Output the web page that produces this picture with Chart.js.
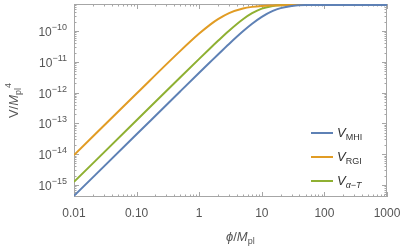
<!DOCTYPE html>
<html>
<head>
<meta charset="utf-8">
<script src="https://cdn.jsdelivr.net/npm/chart.js@4.4.0/dist/chart.umd.min.js"></script>
<style>
  html, body { margin: 0; padding: 0; background: #fff; }
  #wrap { width: 407px; height: 249px; }
</style>
</head>
<body>
<div id="wrap"><canvas id="myChart" width="407" height="249"></canvas></div>
<script>
// valores (phi / M_pl, V / M_pl^4)
const phi      = [0.01, 0.1, 0.5, 1, 1.5, 2, 3, 5, 7, 10, 15, 20, 30, 50, 100, 1000];
const vMHI     = [4.42e-16, 4.42e-14, 1.105e-12, 4.40e-12, 9.82e-12, 1.731e-11, 3.80e-11, 9.76e-11, 1.719e-10, 2.884e-10, 4.49e-10, 5.54e-10, 6.52e-10, 6.95e-10, 7.0e-10, 7.0e-10];
const vRGI     = [9.33e-15, 9.32e-13, 2.26e-11, 8.24e-11, 1.615e-10, 2.43e-10, 3.82e-10, 5.38e-10, 6.07e-10, 6.51e-10, 6.75e-10, 6.87e-10, 6.94e-10, 6.98e-10, 6.995e-10, 7.0e-10];
const vAlphaT  = [1.258e-15, 1.258e-13, 3.135e-12, 1.242e-11, 2.756e-11, 4.80e-11, 1.020e-10, 2.397e-10, 3.776e-10, 5.32e-10, 6.52e-10, 6.87e-10, 6.99e-10, 7.0e-10, 7.0e-10, 7.0e-10];

const xTickValues = [0.01, 0.1, 1, 10, 100, 1000];
const xTickLabels = ['0.01', '0.10', '1', '10', '100', '1000'];
const yTickExps   = [-15, -14, -13, -12, -11, -10];

const series = [
  { sub: 'MHI', datos: vMHI,    color: '#5E81B5' },
  { sub: 'RGI', datos: vRGI,    color: '#E19C24' },
  { sub: 'α−T', datos: vAlphaT, color: '#8FB032' }
];

const FUENTE = '"Liberation Sans", Arial, sans-serif';
const GRIS = '#555555';

function linea(ctx, x1, y1, x2, y2) {
  ctx.beginPath();
  ctx.moveTo(x1, y1);
  ctx.lineTo(x2, y2);
  ctx.stroke();
}

// dibuja una lista de trozos [texto, fuente, desplazamiento vertical] seguidos
function trozos(ctx, partes, x, y) {
  let ancho = 0;
  partes.forEach(p => { ctx.font = p[1]; ancho += ctx.measureText(p[0]).width; });
  return ancho;
}
function escribir(ctx, partes, x, y) {
  let cx = x;
  partes.forEach(p => {
    ctx.font = p[1];
    ctx.fillText(p[0], cx, y + (p[2] || 0));
    cx += ctx.measureText(p[0]).width;
  });
}

const marco = {
  id: 'marco',
  beforeDatasetsDraw(chart) {
    const ctx = chart.ctx, a = chart.chartArea;
    const sx = chart.scales.x, sy = chart.scales.y;
    ctx.save();
    ctx.strokeStyle = '#a6a6a6';
    ctx.lineWidth = 1;
    ctx.strokeRect(Math.round(a.left) + 0.5, Math.round(a.top) + 0.5,
                   Math.round(a.right - a.left) - 1, Math.round(a.bottom - a.top) - 1);
    // marcas en x
    for (let n = -2; n <= 3; n++) {
      for (let k = 1; k <= 9; k++) {
        const v = k * Math.pow(10, n);
        if (v > 1000.0001) break;
        const px = Math.round(sx.getPixelForValue(v)) + 0.5;
        const l = k === 1 ? 5 : 2.5;
        linea(ctx, px, a.bottom, px, a.bottom - l);
        linea(ctx, px, a.top, px, a.top + l);
      }
    }
    // marcas en y
    for (let n = -16; n <= -9; n++) {
      for (let k = 1; k <= 9; k++) {
        const v = k * Math.pow(10, n);
        if (v < sy.min || v > sy.max) continue;
        const py = Math.round(sy.getPixelForValue(v)) + 0.5;
        const l = k === 1 ? 5 : 2.5;
        linea(ctx, a.left, py, a.left + l, py);
        linea(ctx, a.right, py, a.right - l, py);
      }
    }
    ctx.restore();
  },
  afterDraw(chart) {
    const ctx = chart.ctx, a = chart.chartArea;
    const sx = chart.scales.x, sy = chart.scales.y;
    ctx.save();
    ctx.fillStyle = GRIS;

    // etiquetas x
    ctx.font = '12px ' + FUENTE;
    ctx.textAlign = 'center';
    ctx.textBaseline = 'middle';
    xTickValues.forEach((v, i) => {
      ctx.fillText(xTickLabels[i], sx.getPixelForValue(v), a.bottom + 17);
    });

    // etiquetas y con exponente
    ctx.textAlign = 'left';
    ctx.textBaseline = 'alphabetic';
    yTickExps.forEach(e => {
      const py = sy.getPixelForValue(Math.pow(10, e));
      const partes = [['10', '12px ' + FUENTE, 0], ['\u2212' + Math.abs(e), '9px ' + FUENTE, -6]];
      const w = trozos(ctx, partes);
      escribir(ctx, partes, a.left - 7 - w, py + 5);
    });

    // titulo x
    const tx = [['ϕ', 'italic 13px ' + FUENTE, 0], ['/', '13px ' + FUENTE, 0],
                ['M', 'italic 13px ' + FUENTE, 0], ['pl', '9px ' + FUENTE, 3]];
    escribir(ctx, tx, 226, 241);

    // titulo y (girado)
    const ty = [['V/', '13px ' + FUENTE, 0], ['M', 'italic 13px ' + FUENTE, 0],
                ['pl', '9px ' + FUENTE, 3], ['4', '9px ' + FUENTE, -7]];
    const wy = trozos(ctx, ty);
    ctx.save();
    ctx.translate(18, (a.top + a.bottom) / 2);
    ctx.rotate(-Math.PI / 2);
    escribir(ctx, ty, -wy / 2, 0);
    ctx.restore();

    // leyenda
    series.forEach((s, i) => {
      const y = 133 + i * 24;
      ctx.strokeStyle = s.color;
      ctx.lineWidth = 2;
      linea(ctx, 311, y, 333, y);
      ctx.fillStyle = '#333';
      escribir(ctx, [['V', 'italic 13px ' + FUENTE, 0], [s.sub, (i === 2 ? 'italic ' : '') + '9px ' + FUENTE, 3]], 337, y + 4);
    });
    ctx.restore();
  }
};

const ctx = document.getElementById('myChart').getContext('2d');
const myChart = new Chart(ctx, {
  type: 'scatter',
  data: {
    datasets: series.map(s => ({
      label: s.sub,
      data: phi.map((x, i) => ({ x: x, y: s.datos[i] })),
      showLine: true,
      borderColor: s.color,
      borderWidth: 2,
      pointRadius: 0,
      fill: false,
      cubicInterpolationMode: 'monotone'
    }))
  },
  options: {
    responsive: false,
    animation: false,
    devicePixelRatio: 1,
    layout: { padding: { top: 4, right: 20, left: 0, bottom: 0 } },
    plugins: { legend: { display: false }, tooltip: { enabled: false } },
    scales: {
      x: {
        type: 'logarithmic',
        min: 0.01,
        max: 1000,
        ticks: { display: false },
        grid: { display: false },
        border: { display: false },
        afterFit(scale) { scale.height = 52; }
      },
      y: {
        type: 'logarithmic',
        min: 4.07e-16,
        max: 7.53e-10,
        ticks: { display: false },
        grid: { display: false },
        border: { display: false },
        afterFit(scale) { scale.width = 74; }
      }
    }
  },
  plugins: [marco]
});
</script>
</body>
</html>
